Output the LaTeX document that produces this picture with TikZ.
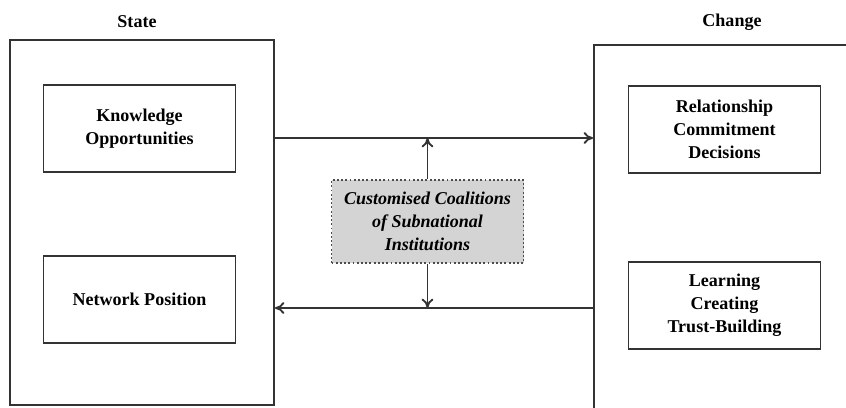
\documentclass[tikz,border=0pt]{standalone}
\usepackage{fontspec}
\setmainfont{Liberation Serif}
\usepackage{tikz}
\usetikzlibrary{positioning,arrows.meta}

\begin{document}
\begin{tikzpicture}[
	node distance=2cm,
	big/.style={
		draw=black!80,
		line width=1.6pt,
		inner sep=0pt
	},
	box/.style={
		draw=black!80,
		line width=1.6pt,
		align=center,
		font=\fontsize{15.4}{19.6}\selectfont\bfseries,
		minimum width=5.76cm,
		minimum height=2.61cm
	},
	title/.style={font=\fontsize{15.4}{19.6}\selectfont\bfseries},
	arrow/.style={-{To[length=8pt,width=10pt]},line width=1.6pt,draw=black!80}
	]
	
	\clip (0,0) rectangle (25.38,-12.21);
	
	\node[big,minimum width=7.92cm,minimum height=10.95cm] (state) at (4.26,-6.675) {};
	\node[title] (statelbl) at (4.11,-0.66) {State};
	
	\node[box] (know) at (4.185,-3.855) {Knowledge\\ Opportunities};
	\node[box,below=2.46cm of know] (netpos) {Network Position};
	
	\node[big,minimum width=8.18cm,minimum height=11.65cm] (change) at (21.91,-7.175) {};
	\node[title] (changelbl) at (21.96,-0.66) {Change};
	
	\node[box] (rel) at (21.735,-3.885) {Relationship\\ Commitment\\ Decisions};
	\node[box,below=2.61cm of rel] (learn) {Learning\\ Creating\\ Trust-Building};
	
	\node[box,fill=black!17,draw=black!70,dotted,line width=1.2pt,
		minimum height=2.49cm,font=\fontsize{15.4}{19.6}\selectfont\bfseries\itshape]
		(coal) at (12.825,-6.645)
		{Customised Coalitions\\ of Subnational\\ Institutions};
	
	\coordinate (toprow) at (0,-4.14);
	\coordinate (botrow) at (0,-9.24);
	
	\draw[arrow] (state.east |- toprow) -- (change.west |- toprow);
	\draw[arrow] (change.west |- botrow) -- (state.east |- botrow);
	\draw[arrow] (coal.north) -- (coal.north |- toprow);
	\draw[arrow] (coal.south) -- (coal.south |- botrow);
	
\end{tikzpicture}
\end{document}
